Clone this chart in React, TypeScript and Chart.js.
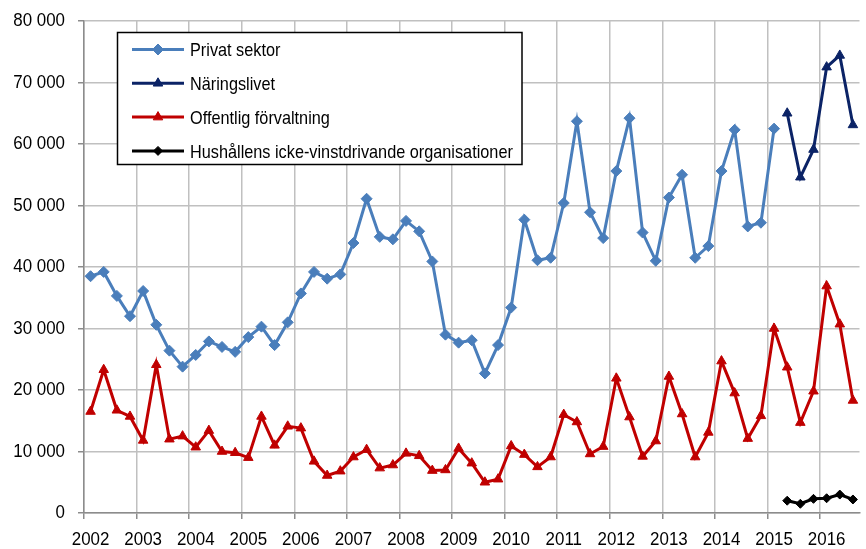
import React, { useEffect, useRef } from 'react';
import { Chart, registerables } from 'chart.js';
import { drawPoint } from 'chart.js/helpers';

Chart.register(...registerables);

const years = [2002, 2003, 2004, 2005, 2006, 2007, 2008, 2009, 2010, 2011, 2012, 2013, 2014, 2015, 2016];
const quarterNames = ['K1', 'K2', 'K3', 'K4'];
const lastQuarterCount = 59; // 2002 K1 .. 2016 K3

const privatSektor = [
  38500, 39200, 35300, 32000, 36100, 30600, 26400, 23800, 25700, 27900, 27000, 26200, 28600, 30300, 27300, 31000,
  35700, 39200, 38100, 38800, 43900, 51100, 44900, 44500, 47500, 45800, 40900, 29000, 27700, 28100, 22700, 27300,
  33400, 47700, 41100, 41500, 50400, 63700, 48900, 44700, 55600, 64200, 45600, 41000, 51300, 55000, 41500, 43400,
  55600, 62300, 46600, 47200, 62500,
];
const naringslivet = [65000, 54600, 59100, 72500, 74400, 63100];
const offentligForvaltning = [
  16500, 23300, 16700, 15700, 11800, 24100, 12000, 12500, 10700, 13400, 10000, 9800, 9000, 15700, 11000, 14100,
  13800, 8400, 6100, 6800, 9100, 10300, 7300, 7800, 9700, 9300, 6900, 7000, 10500, 8100, 5000, 5500,
  10900, 9500, 7500, 9100, 16000, 14800, 9600, 10800, 21900, 15600, 9200, 11700, 22200, 16100, 9100, 13100,
  24700, 19500, 12100, 15800, 30000, 23700, 14700, 19800, 36900, 30700, 18300,
];
const hushallens = [2000, 1500, 2300, 2400, 3000, 2200];
const lateSeriesStart = '2015 K2';

const yTicks = [0, 10000, 20000, 30000, 40000, 50000, 60000, 70000, 80000];

const quarters: string[] = [];
years.forEach((y) => quarterNames.forEach((q) => quarters.push(`${y} ${q}`)));
quarters.length = lastQuarterCount;

const FONT = "'Liberation Sans', Arimo, Arial, sans-serif";
const fmt = (v: number) => String(v).replace(/\B(?=(\d{3})+(?!\d))/g, ' ');
const yearLabel = (i: number) => (i % 4 === 0 ? quarters[i].slice(0, 4) : '');

function narrowText(ctx: CanvasRenderingContext2D, text: string, x: number, y: number, sx: number, align: CanvasTextAlign, baseline: CanvasTextBaseline) {
  ctx.save();
  ctx.translate(x, y);
  ctx.scale(sx, 1);
  ctx.textAlign = align;
  ctx.textBaseline = baseline;
  ctx.fillText(text, 0, 0);
  ctx.restore();
}

const textPlugin = {
  id: 'narrowText',
  afterDraw(chart: any) {
    const ctx: CanvasRenderingContext2D = chart.ctx;
    const xs = chart.scales.x;
    const ys = chart.scales.y;
    ctx.save();
    ctx.fillStyle = '#000000';
    ctx.font = `18.6px ${FONT}`;
    // y tick labels
    ys.ticks.forEach((t: any) => {
      narrowText(ctx, fmt(t.value), 65, ys.getPixelForValue(t.value), 0.91, 'right', 'middle');
    });
    // x tick labels (years)
    quarters.forEach((_q, i) => {
      const lab = yearLabel(i);
      if (lab) narrowText(ctx, lab, xs.getPixelForTick(i), 545, 0.91, 'center', 'alphabetic');
    });
    // legend box
    ctx.fillStyle = '#ffffff';
    ctx.fillRect(117, 32, 405, 133);
    ctx.strokeStyle = '#000000';
    ctx.lineWidth = 1.5;
    ctx.strokeRect(117.5, 32.5, 404.5, 132);
    chart.data.datasets.forEach((ds: any, k: number) => {
      const y = 49.5 + k * 33.8;
      ctx.strokeStyle = ds.borderColor;
      ctx.lineWidth = 3;
      ctx.beginPath();
      ctx.moveTo(132, y);
      ctx.lineTo(184, y);
      ctx.stroke();
      ctx.fillStyle = ds.backgroundColor;
      ctx.strokeStyle = ds.borderColor;
      ctx.lineWidth = 1;
      drawPoint(ctx, { pointStyle: ds.pointStyle, radius: ds.pointRadius, borderWidth: 1, rotation: 0 }, 158, y);
      ctx.fillStyle = '#000000';
      narrowText(ctx, ds.label, 190, y + 6.6, 0.875, 'left', 'alphabetic');
    });
    ctx.restore();
  },
};

export default function App() {
  const ref = useRef<HTMLCanvasElement | null>(null);
  useEffect(() => {
    if (!ref.current) return;
    const startIdx = quarters.indexOf(lateSeriesStart);
    const late = (arr: number[]) => arr.map((v, i) => ({ x: quarters[startIdx + i], y: v }));
    const chart = new Chart(ref.current, {
      type: 'line',
      data: {
        labels: quarters,
        datasets: [
          {
            label: 'Privat sektor',
            data: privatSektor,
            borderColor: '#4a7ebb',
            backgroundColor: '#4a7ebb',
            borderWidth: 3,
            pointStyle: 'rectRot',
            pointRadius: 5.5,
            pointBorderWidth: 1,
            tension: 0,
          },
          {
            label: 'Näringslivet',
            data: late(naringslivet),
            borderColor: '#0b2366',
            backgroundColor: '#0b2366',
            borderWidth: 3,
            pointStyle: 'triangle',
            pointRadius: 5.5,
            pointBorderWidth: 1,
            tension: 0,
          },
          {
            label: 'Offentlig förvaltning',
            data: offentligForvaltning,
            borderColor: '#c00000',
            backgroundColor: '#c00000',
            borderWidth: 3,
            pointStyle: 'triangle',
            pointRadius: 5.5,
            pointBorderWidth: 1,
            tension: 0,
          },
          {
            label: 'Hushållens icke-vinstdrivande organisationer',
            data: late(hushallens),
            borderColor: '#000000',
            backgroundColor: '#000000',
            borderWidth: 3,
            pointStyle: 'rectRot',
            pointRadius: 4.5,
            pointBorderWidth: 1,
            tension: 0,
          },
        ],
      },
      options: {
        responsive: false,
        animation: false,
        devicePixelRatio: 1,
        layout: { padding: { top: 21, right: 1, bottom: 0, left: 0 } },
        plugins: { legend: { display: false }, tooltip: { enabled: false } },
        scales: {
          x: {
            type: 'category',
            offset: true,
            afterFit: (s: any) => {
              s.height = 36;
            },
            grid: {
              offset: true,
              color: (c: any) => (c.index !== undefined && c.index % 4 === 0 ? '#c0c0c0' : 'rgba(0,0,0,0)'),
              tickColor: (c: any) => (c.index !== undefined && c.index % 4 === 0 ? '#8c8c8c' : 'rgba(0,0,0,0)'),
              lineWidth: 1.5,
              tickLength: 6,
              drawTicks: true,
            },
            border: { color: '#8c8c8c', width: 1.5 },
            ticks: {
              display: false,
              autoSkip: false,
              maxRotation: 0,
              minRotation: 0,
              callback: (_v: any, i: number) => yearLabel(i),
            },
          },
          y: {
            min: yTicks[0],
            max: yTicks[yTicks.length - 1],
            afterFit: (s: any) => {
              s.width = 84;
            },
            afterBuildTicks: (s: any) => {
              s.ticks = yTicks.map((v) => ({ value: v }));
            },
            grid: {
              color: '#c0c0c0',
              tickColor: '#8c8c8c',
              lineWidth: 1.5,
              tickLength: 6,
            },
            border: { color: '#8c8c8c', width: 1.5 },
            ticks: {
              display: false,
              callback: (v: any) => fmt(Number(v)),
            },
          },
        },
      },
      plugins: [textPlugin],
    } as any);
    return () => chart.destroy();
  }, []);
  return (
    <div style={{ position: 'absolute', left: 0, top: 0, width: 866, height: 549, background: '#fff' }}>
      <canvas ref={ref} width={866} height={549} style={{ width: 866, height: 549, display: 'block' }} />
    </div>
  );
}
